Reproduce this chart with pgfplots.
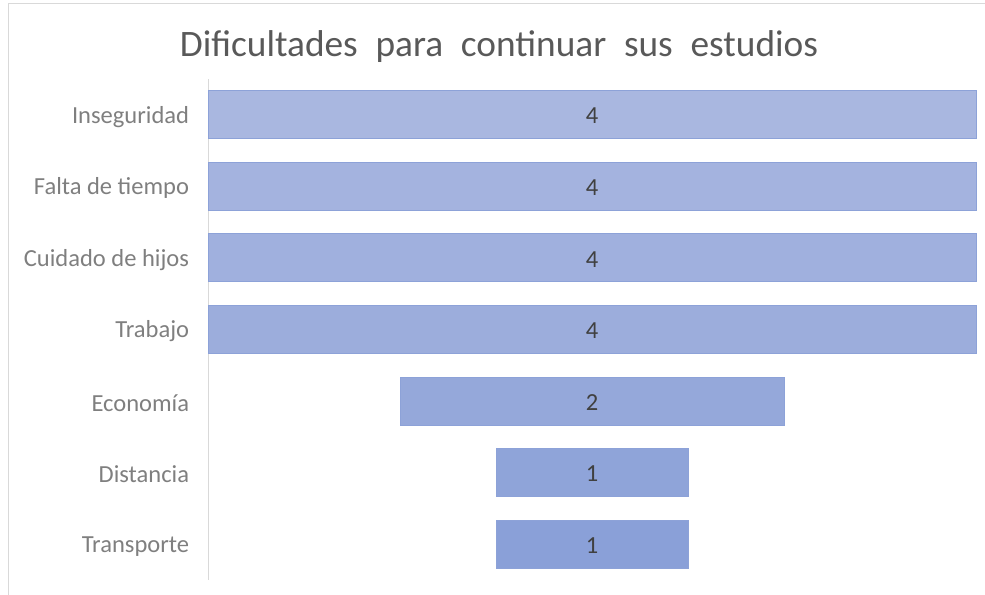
\documentclass[border=0pt]{standalone}
\usepackage{pgfplots}
\pgfplotsset{compat=1.18}
\usepackage{pgfplotstable}
\usepackage{fontspec}
\setmainfont{Carlito}
\definecolor{c0}{HTML}{8AA0D8}
\definecolor{c1}{HTML}{8FA4D9}
\definecolor{c2}{HTML}{95A8DA}
\definecolor{c3}{HTML}{9CADDC}
\definecolor{c4}{HTML}{A0B0DE}
\definecolor{c5}{HTML}{A4B3DF}
\definecolor{c6}{HTML}{A9B7E0}
\definecolor{edge}{HTML}{8DA2D8}
\definecolor{lbl}{HTML}{7F7F7F}
\definecolor{ttl}{HTML}{595959}
\definecolor{num}{HTML}{404040}
\definecolor{frame}{HTML}{D9D9D9}

\pgfplotstableread{
y off val
0 1.5 1
1 1.5 1
2 1 2
3 0 4
4 0 4
5 0 4
6 0 4
}\funnel

\begin{document}
\begin{tikzpicture}[x=1pt,y=1pt]
\path[use as bounding box] (0,0) rectangle (738.75,446.25);
\draw[frame, line width=0.75pt] (6,-5) -- (6,443.25) -- (745,443.25);
\node[font=\fontsize{28}{33}\selectfont, text=ttl, anchor=base, inner sep=0pt] at (374.25,403.5)
  {Dificultades\hspace{7pt} para\hspace{7pt} continuar\hspace{7pt} sus\hspace{7pt} estudios};
\begin{axis}[
  at={(156pt,11.25pt)}, anchor=south west,
  scale only axis, width=576pt, height=375.75pt,
  xmin=0, xmax=4, ymin=-0.5, ymax=6.5,
  xbar stacked, bar width=36pt,
  hide x axis,
  axis y line=left,
  y axis line style={-, draw=frame, line width=0.75pt},
  ytick={0,...,6},
  yticklabels={Transporte,Distancia,Economía,Trabajo,Cuidado de hijos,Falta de tiempo,Inseguridad},
  major tick length=0pt,
  ytick style={draw=none},
  yticklabel style={font=\fontsize{18.4}{22}\selectfont, text=lbl, inner xsep=0pt, xshift=-14pt, yshift=-1.5pt},
  clip=false,
  /pgf/number format/assume math mode=true,
]
\addplot[draw=none, fill=none] table[x=off, y=y] {\funnel};
\addplot[fill=c0, draw=edge, line width=0.75pt] table[x expr={\thisrow{y}==0 ? \thisrow{val} : 0}, y=y] {\funnel};
\addplot[fill=c1, draw=edge, line width=0.75pt] table[x expr={\thisrow{y}==1 ? \thisrow{val} : 0}, y=y] {\funnel};
\addplot[fill=c2, draw=edge, line width=0.75pt] table[x expr={\thisrow{y}==2 ? \thisrow{val} : 0}, y=y] {\funnel};
\addplot[fill=c3, draw=edge, line width=0.75pt] table[x expr={\thisrow{y}==3 ? \thisrow{val} : 0}, y=y] {\funnel};
\addplot[fill=c4, draw=edge, line width=0.75pt] table[x expr={\thisrow{y}==4 ? \thisrow{val} : 0}, y=y] {\funnel};
\addplot[fill=c5, draw=edge, line width=0.75pt] table[x expr={\thisrow{y}==5 ? \thisrow{val} : 0}, y=y] {\funnel};
\addplot[fill=c6, draw=edge, line width=0.75pt] table[x expr={\thisrow{y}==6 ? \thisrow{val} : 0}, y=y] {\funnel};
% value labels: the stacked-bar node placement puts the node halfway along [0,x],
% so x = 2*(off + val/2) puts it at the centre of each funnel bar
\addplot[stack plots=false, sharp plot, draw=none, mark=none,
  nodes near coords, point meta=explicit,
  every node near coord/.append style={anchor=center, font=\fontsize{18.4}{22}\selectfont, text=num, yshift=-1pt}]
  table[x expr={2*\thisrow{off}+\thisrow{val}}, y=y, meta=val] {\funnel};
\end{axis}
\end{tikzpicture}
\end{document}
